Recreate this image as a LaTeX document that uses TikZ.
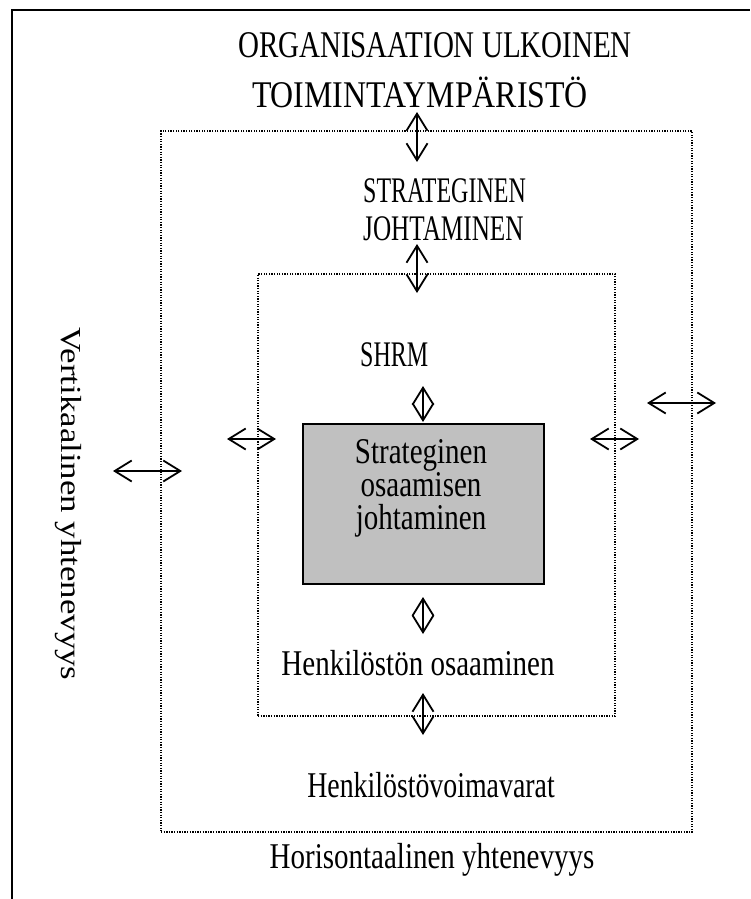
\documentclass[tikz,border=0pt]{standalone}
\usepackage{fontspec}
\usepackage{graphicx}
\setmainfont{Liberation Serif}
\usetikzlibrary{arrows.meta}
\definecolor{boxgray}{RGB}{192,192,192}
% text set tall and narrow: [horizontal factor][vertical factor]
\newcommand{\tallstr}[3][1]{\scalebox{#1}[#2]{#3}}
\begin{document}
\begin{tikzpicture}[x=1pt,y=-1pt,
  lbl/.style={font=\fontsize{29}{33}\selectfont, inner sep=0pt, anchor=base},
  small/.style={font=\fontsize{24}{28}\selectfont, inner sep=0pt, anchor=base west},
  zone/.style={draw, line width=1.2pt, dash pattern=on 1.3pt off 1.3pt},
  barb/.tip={Straight Barb[length=17pt,width=21pt,line width=1.8pt]},
  link/.style={line width=1.8pt, barb-barb},
  frame/.style={line width=2.2pt}
]
\useasboundingbox (0,0) rectangle (750,899);

% open outer frame: left and top edges only
\coordinate (fbl) at (12,899);
\coordinate (ftl) at (12,10);
\coordinate (ftr) at (750,10);
\draw[frame] (fbl) -- (ftl) -- (ftr);

% nested dotted zones
\node[zone, minimum width=531pt, minimum height=701pt, inner sep=0pt] (outer) at (426.5,481.5) {};
\node[zone, minimum width=357pt, minimum height=442pt, inner sep=0pt] (inner) at (436.5,495) {};

% central grey box
\node[draw, fill=boxgray, line width=1.5pt, minimum width=241pt, minimum height=160pt, inner sep=0pt] (core) at (423.5,504) {};
\node[lbl] (core1) at (421,463) {\tallstr{1.25}{Strateginen}};
\node[lbl] (core2) at (421,496) {\tallstr{1.25}{osaamisen}};
\node[lbl] (core3) at (421,529) {\tallstr{1.25}{johtaminen}};

% labels
\node[lbl] (env1) at (435,58) {\tallstr{1.3}{ORGANISAATION ULKOINEN}};
\node[lbl] (env2) at (420,107) {\tallstr[1.1]{1.3}{TOIMINTAYMPÄRISTÖ}};
\node[small] (strat1) at (363,202) {\tallstr{1.5}{STRATEGINEN}};
\node[small] (strat2) at (363,240) {\tallstr[1.05]{1.5}{JOHTAMINEN}};
\node[small] (shrm) at (360,366) {\tallstr{1.5}{SHRM}};
\node[lbl] (staff) at (418,675) {\tallstr{1.25}{Henkilöstön osaaminen}};
\node[lbl] (force) at (431,797) {\tallstr[0.96]{1.25}{Henkilöstövoimavarat}};
\node[lbl] (horiz) at (432,868) {\tallstr{1.25}{Horisontaalinen yhtenevyys}};
\node[font=\fontsize{29}{33}\selectfont, inner sep=0pt, rotate=-90] (vert) at (68,504) {\scalebox{1.2}[1]{Vertikaalinen yhtenevyys}};

% arrow end points
\coordinate (a1t) at (417,112);  \coordinate (a1b) at (417,162);
\coordinate (a2t) at (417,244);  \coordinate (a2b) at (417,293);
\coordinate (a3t) at (423,386);  \coordinate (a3b) at (423,422);
\coordinate (a4t) at (423,597);  \coordinate (a4b) at (423,634);
\coordinate (a5t) at (423,693);  \coordinate (a5b) at (423,735);
\coordinate (h1l) at (113,471);  \coordinate (h1r) at (182,471);
\coordinate (h2l) at (227,439);  \coordinate (h2r) at (276,439);
\coordinate (h3l) at (590,439);  \coordinate (h3r) at (639,439);
\coordinate (h4l) at (647,403);  \coordinate (h4r) at (716,403);

% two-way links
\draw[link] (a1t) -- (a1b);
\draw[link] (a2t) -- (a2b);
\draw[link] (a3t) -- (a3b);
\draw[link] (a4t) -- (a4b);
\draw[link] (a5t) -- (a5b);
\draw[link] (h1l) -- (h1r);
\draw[link] (h2l) -- (h2r);
\draw[link] (h3l) -- (h3r);
\draw[link] (h4l) -- (h4r);
\end{tikzpicture}
\end{document}
